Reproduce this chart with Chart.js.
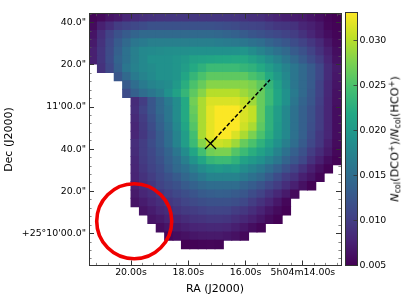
<!DOCTYPE html>
<html><head><meta charset="utf-8">
<script src="https://cdn.jsdelivr.net/npm/chart.js@4"></script>
<style>
html,body{margin:0;padding:0;background:#fff;overflow:hidden}
#wrap{position:relative;width:415px;height:298px;font-family:"DejaVu Sans",sans-serif}
canvas{position:absolute;top:0;display:block}
#main{left:0}#bar{left:341px}
#cbl{position:absolute;left:395px;top:139px;white-space:nowrap;font-size:11.3px;line-height:1;transform:translate(-50%,-50%) rotate(-90deg);color:#000}
#cbl sub{font-size:8px;vertical-align:-2px;line-height:0}
#cbl sup{font-size:8px;vertical-align:4px;line-height:0}
</style></head><body>
<div id="wrap"><canvas id="main" width="415" height="298"></canvas><canvas id="bar" width="74" height="298"></canvas>
<div id="cbl"><i>N</i><sub>col</sub>(DCO<sup>+</sup>)/<i>N</i><sub>col</sub>(HCO<sup>+</sup>)</div></div>
<script>
const n=null;
// ratio values, in units of 1e-3, by map row (north to south), columns east to west
const row00=[5.3,5.7,6.5,7,8,8.5,8.8,9,9.2,9.3,9.4,9.4,9.4,9.3,9.3,9.3,9.3,9.2,9,8.8,8.7,8.2,7.7,7.4,7.2,7,6.5,6,5.3,5];
const row01=[5.8,7.5,8.7,10,10.5,11,11.5,12,12,12,12,12,12,12,12,11.8,11.6,11.3,10.8,10.7,10.5,10,9.5,9.3,9,8,7.5,6.8,5.5,5.2];
const row02=[6.5,8.7,10.5,12,13,14,14.5,14.5,14.5,14.5,14.5,14.5,14.5,14.5,14.5,14.3,14,13.7,13,12.4,12,11.5,11,10.5,10,9,8,7,6,5.3];
const row03=[7,9,11,13,14.5,16,16.5,17,17,17,17,17,17,17,17,16.8,16.6,16.3,16,15.5,15,14,13.2,12.5,11.5,10.5,9.5,8.3,6.8,5.6];
const row04=[7.5,9.3,11.3,13.5,15.5,17,18,18.3,18.5,18.7,18.8,18.8,19,19,19,19,19,19.2,19.5,18.5,17.5,16.5,15.5,14.5,13,12,10.5,9,7.5,6];
const row05=[7.5,9.3,11.5,14,15.5,17,18,19,19,19,19.5,20,21,21.3,21.5,21.7,21.8,22,22,21,20,18.7,17.5,16,14.5,13,11.5,10,8,6.3];
const row06=[n,9,11,13.5,16,17.3,18,18.5,19,19,19.5,20.5,22,23,24,24,24,24,23.5,23,22,20.5,19,17.5,16,14.5,13,11,8.5,7];
const row07=[n,n,n,12.5,14.5,16.5,17.5,18.3,19,19,19.5,21.5,23.5,25,26,26,26,26,26,25,24,22,20,18,16,14.5,13,11,8.5,6.8];
const row08=[n,n,n,n,13,15,16.5,17.5,18,18.5,20,22.5,25,26.5,28,28,28,28,28,27.5,26,23.5,21,18.5,16,14.5,13,10.5,8.2,6.5];
const row09=[n,n,n,n,11.5,13.5,15,16,17,19,21,23.5,26,28,30,30,30,30,29,28,26.5,24,21.5,19,16.5,14.5,12.7,10.5,8.2,6.3];
const row10=[n,n,n,n,n,8.5,10,12.5,14.5,16.5,18.5,22,27,29.5,31.5,31.5,31.5,31.5,30.5,29,26.5,24,21.5,19,16,14,12.5,10.3,8,6.2];
const row11=[n,n,n,n,n,8.7,10.5,12.5,14.5,16,18.5,22,26.5,29.5,32,33,33,33,31.5,30.5,26.5,23,20.5,18,15.5,13.5,12,10,8,6];
const row12=[n,n,n,n,n,8.3,10,12,14,16,18.5,22,26,29.5,32,33,33,33,31.5,30.5,26.5,23,20.5,18,15.5,13.5,12,10,8,6];
const row13=[n,n,n,n,n,8,9.7,11.5,13.5,15.5,18,21.5,25.5,29.5,32,33,33,33,31,29.5,26,23,20.3,18,15.5,13.5,11.8,10,8,6];
const row14=[n,n,n,n,n,8,9.5,11,13,15,17.5,20.5,24.5,29.5,32,33,33,31.5,29.5,27.5,25,22.5,20,18,15.5,13.5,11.5,9.5,8,6];
const row15=[n,n,n,n,n,8.7,10,11.5,13,15,17.5,20.5,24,28,30.5,31,30.5,29,26.5,25,23,21,19,17,15,13,11,9.5,7.5,5.8];
const row16=[n,n,n,n,n,8.5,10,11,12.5,14,16,18.5,21.5,24.5,27,27.5,27.5,25.5,24,22.5,21,19.5,17.5,15.5,13.5,12,10,8.5,7,5.5];
const row17=[n,n,n,n,n,8.2,9.8,10.8,12,13.5,15,17,19.3,21.5,23.5,24,24,23,21,20,19,17.5,16,14,12.5,11,9,7.5,6,5.2];
const row18=[n,n,n,n,n,8,9.5,10.5,11.5,13,14.5,15.5,17,18.5,19.5,20,19.5,20,18.5,17.5,16.5,15,13.5,12,10.5,9,7.5,6.2,5.2,n];
const row19=[n,n,n,n,n,7.8,9,10,11,12,13,14.3,15.3,16.5,17.5,17.5,17.5,17.5,16.5,15.5,14.5,13,11.5,10,9,7.5,6.5,5.3,n,n];
const row20=[n,n,n,n,n,7.5,8.7,9.5,10.5,11.3,12,13,13.8,14.5,15,15,15,15,14,13.2,12.3,11,10,8.7,7.5,6.3,5.2,n,n,n];
const row21=[n,n,n,n,n,7,8,8.7,9.5,10.3,11,11.7,12.3,13,13.3,13.5,13.4,13,12.5,11.5,10.5,9.3,8.2,7,5.7,n,n,n,n,n];
const row22=[n,n,n,n,n,6.5,7.2,8,8.7,9.5,10,10.7,11.2,11.7,12,12,12,11.7,11,10,9,8,6.8,5.5,n,n,n,n,n,n];
const row23=[n,n,n,n,n,n,6.5,7.2,8,8.5,9.2,9.7,10,10.4,10.7,10.7,10.6,10,9.5,8.7,7.7,6.7,5.8,5.1,n,n,n,n,n,n];
const row24=[n,n,n,n,n,n,n,6.5,7,7.7,8,8.5,9,9.2,9.5,9.5,9.3,8.8,8.2,7.5,6.7,5.8,5.1,n,n,n,n,n,n,n];
const row25=[n,n,n,n,n,n,n,n,6,6.6,7,7.4,7.8,8,8.2,8.2,8,7.4,6.8,6,5.3,n,n,n,n,n,n,n,n,n];
const row26=[n,n,n,n,n,n,n,n,n,5.5,6,6.3,6.7,6.9,7,7,6.7,6.3,5.6,n,n,n,n,n,n,n,n,n,n,n];
const row27=[n,n,n,n,n,n,n,n,n,n,n,5,5.2,5.3,5.4,5.3,n,n,n,n,n,n,n,n,n,n,n,n,n,n];
const rows=[row00,row01,row02,row03,row04,row05,row06,row07,row08,row09,row10,row11,row12,row13,row14,row15,row16,row17,row18,row19,row20,row21,row22,row23,row24,row25,row26,row27];

const raLimits=[21.466,12.67];      // seconds of RA, left and right edge
const decLimits=[-15.1,104.25];     // arcsec from +25 10 00, bottom and top edge
const gridSize=30;
const raMajor=[20,18,16,14];
const raMajorLabels=["20.00s","18.00s","16.00s","5h04m14.00s"];
const decMajor=[100,80,60,40,20,0];
const decMajorLabels=['40.0"','20.0"',"11'00.0\"",'40.0"','20.0"',"+25°10'00.0\""];
const raMinor=[21.2,20.8,20.4,19.6,19.2,18.8,18.4,17.6,17.2,16.8,16.4,15.6,15.2,14.8,14.4,13.6,13.2,12.8];
const decMinor=[104,96,92,88,84,76,72,68,64,56,52,48,44,36,32,28,24,16,12,8,4,-4,-8,-12];
const lineRA=[17.225,15.148], lineDec=[42.7,72.9];
const markRA=[17.225], markDec=[42.7];
const beamRA=[19.888], beamDec=[5.9];
const cbarLimits=[0.005,0.0331];
const cbarTicks=[0.005,0.010,0.015,0.020,0.025,0.030];
const viridisStops=["#440154","#482475","#414487","#355f8d","#2a788e","#21918c","#22a884","#44bf70","#7ad151","#bddf26","#fde725"];

function hex(h){return [1,3,5].map(i=>parseInt(h.substr(i,2),16));}
function viridis(t){
  t=Math.max(0,Math.min(1,t));const p=t*(viridisStops.length-1),i=Math.min(Math.floor(p),viridisStops.length-2),f=p-i;
  const a=hex(viridisStops[i]),b=hex(viridisStops[i+1]);
  return `rgb(${a.map((v,k)=>Math.round(v+(b[k]-v)*f)).join(",")})`;
}
const dRA=(raLimits[0]-raLimits[1])/gridSize, dDec=(decLimits[1]-decLimits[0])/gridSize;
const cells=[];
rows.forEach((r,j)=>r.forEach((v,i)=>{if(v!==null)cells.push({x:raLimits[0]-(i+.5)*dRA,y:decLimits[1]-(j+.5)*dDec,v:v*1e-3});}));

const ink="#333",font={family:"DejaVu Sans",size:9.4};
function fixed(size){return s=>{if(s.isHorizontal())s.height=size;else s.width=size;};}
function tickAxis(axis,position,vals,len,width,color,size,weight,extra){
  return Object.assign({type:"linear",axis,position,display:true,weight,
    min:axis==="x"?raLimits[1]:decLimits[0],max:axis==="x"?raLimits[0]:decLimits[1],reverse:axis==="x",
    afterBuildTicks:s=>{s.ticks=vals.map(v=>({value:v}));},afterFit:fixed(size),
    border:{display:true,color:ink,width:1,z:2},
    grid:{drawOnChartArea:false,drawTicks:true,tickLength:len,tickWidth:width,tickColor:color,z:2},
    ticks:{display:false,autoSkip:false,maxRotation:0}},extra||{});
}
const lab=(vals,labels)=>(v=>{const i=vals.indexOf(v);return i<0?"":labels[i];});
new Chart(document.getElementById("main"),{
  type:"scatter",
  data:{datasets:[
    {data:beamRA.map((x,i)=>({x,y:beamDec[i]})),pointStyle:"circle",pointRadius:37.5,pointBorderWidth:3.6,pointBorderColor:"#f00000",pointBackgroundColor:"rgba(0,0,0,0)",clip:false},
    {data:markRA.map((x,i)=>({x,y:markDec[i]})),pointStyle:"crossRot",pointRadius:7.8,pointBorderWidth:1.2,pointBorderColor:"#000"},
    {data:lineRA.map((x,i)=>({x,y:lineDec[i]})),showLine:true,borderColor:"#000",borderWidth:1.5,borderDash:[4,2],pointRadius:0},
    {data:cells,pointStyle:"rect",pointRadius:6.6,pointBorderWidth:0,pointBackgroundColor:c=>c.raw?viridis((c.raw.v-cbarLimits[0])/(cbarLimits[1]-cbarLimits[0])):"#000"}
  ]},
  options:{responsive:false,animation:false,devicePixelRatio:1,events:[],
    layout:{padding:0,autoPadding:false},
    plugins:{legend:{display:false},tooltip:{enabled:false}},
    scales:{
      x:tickAxis("x","bottom",raMajor,-5,1,ink,32.5,0,{
        title:{display:true,text:"RA (J2000)",color:"#000",font:{family:"DejaVu Sans",size:11},padding:{top:0,bottom:2}},
        ticks:{display:true,autoSkip:false,maxRotation:0,minRotation:0,color:"#000",font,padding:6.6,callback:lab(raMajor,raMajorLabels)}}),
      y:tickAxis("y","left",decMajor,-5,1,ink,89,0,{
        title:{display:true,text:"Dec (J2000)",color:"#000",font:{family:"DejaVu Sans",size:11},padding:{top:3,bottom:0}},
        ticks:{display:true,autoSkip:false,color:"#000",font,padding:8,callback:lab(decMajor,decMajorLabels)}}),
      xm:tickAxis("x","bottom",raMinor,-2.6,.7,"#555",0,-1),
      ym:tickAxis("y","left",decMinor,-2.6,.7,"#555",0,-1),
      xt:tickAxis("x","top",raMajor,-5,1,ink,12.5,0),
      xtm:tickAxis("x","top",raMinor,-2.6,.7,"#555",0,-1),
      yr:tickAxis("y","right",decMajor,-5,1,ink,74,0),
      yrm:tickAxis("y","right",decMinor,-2.6,.7,"#555",0,-1)
    }
  }
});
new Chart(document.getElementById("bar"),{
  type:"bar",
  data:{labels:[""],datasets:[{data:[cbarLimits],barPercentage:1,categoryPercentage:1,borderWidth:0,
    backgroundColor:c=>{const a=c.chart.chartArea;if(!a)return "#000";
      const g=c.chart.ctx.createLinearGradient(0,a.bottom,0,a.top);
      viridisStops.forEach((h,i)=>g.addColorStop(i/(viridisStops.length-1),h));return g;}}]},
  options:{responsive:false,animation:false,devicePixelRatio:1,events:[],
    layout:{padding:0,autoPadding:false},
    plugins:{legend:{display:false},tooltip:{enabled:false}},
    scales:{
      x:{position:"bottom",afterFit:fixed(32.5),border:{display:true,color:ink,width:1,z:2},grid:{display:false},ticks:{display:false}},
      xTop:{axis:"x",position:"top",afterFit:fixed(12.5),border:{display:true,color:ink,width:1,z:2},grid:{display:false},ticks:{display:false}},
      yLeft:{type:"linear",axis:"y",position:"left",min:cbarLimits[0],max:cbarLimits[1],afterFit:fixed(4),border:{display:true,color:ink,width:1,z:2},grid:{display:false},ticks:{display:false}},
      y:{type:"linear",position:"right",min:cbarLimits[0],max:cbarLimits[1],afterFit:fixed(58),
        afterBuildTicks:s=>{s.ticks=cbarTicks.map(v=>({value:v}));},
        border:{display:true,color:ink,width:1,z:2},
        grid:{drawOnChartArea:false,drawTicks:true,tickLength:-3.5,tickWidth:.8,tickColor:ink,z:2},
        ticks:{color:"#000",font,padding:6,autoSkip:false,callback:v=>v.toFixed(3)}}
    }
  }
});
</script></body></html>
